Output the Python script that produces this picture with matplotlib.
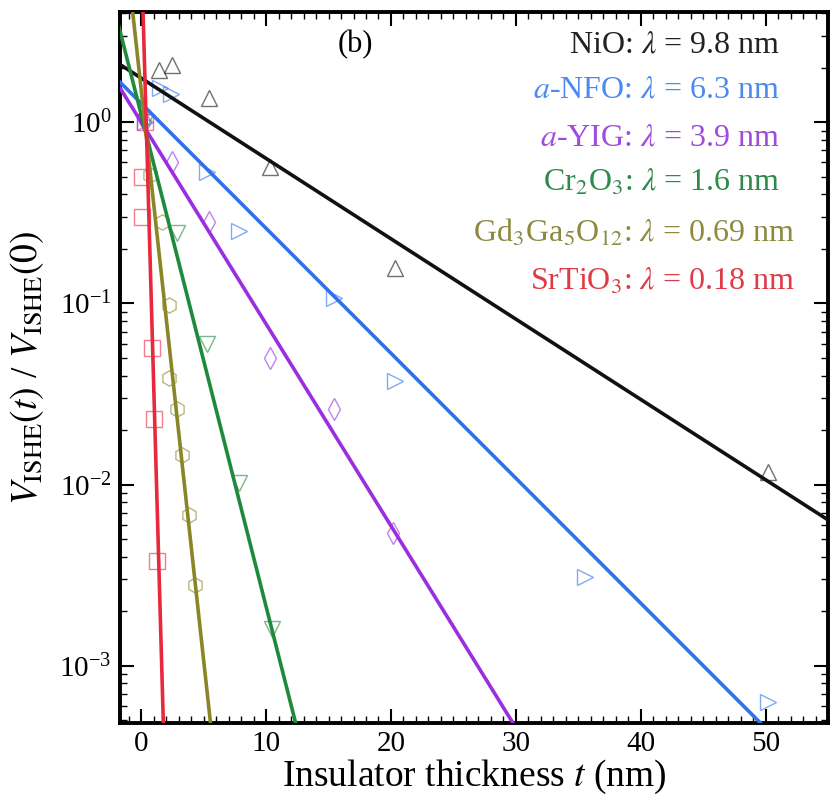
import numpy as np
import matplotlib
matplotlib.use("Agg")
import matplotlib.pyplot as plt
from matplotlib.ticker import MultipleLocator, LogLocator, NullFormatter

plt.rcParams['font.family'] = ['Liberation Serif', 'DejaVu Serif']
plt.rcParams['mathtext.fontset'] = 'stix'

# normalised ISHE voltage vs insulator thickness (nm)
t_nio = [1.4, 2.5, 5.4, 10.3, 20.3, 50.2]
v_nio = [1.94, 2.06, 1.36, 0.565, 0.157, 0.0117]

t_nfo = [0.3, 1.5, 2.4, 5.3, 7.8, 15.4, 20.3, 35.5, 50.2]
v_nfo = [1.0, 1.54, 1.44, 0.53, 0.25, 0.107, 0.0374, 0.0031, 6.3e-4]

t_yig = [0.3, 2.5, 5.4, 10.3, 15.4, 20.2]
v_yig = [1.0, 0.60, 0.28, 0.050, 0.026, 5.4e-3]

t_cro = [0.3, 2.9, 5.3, 7.8, 10.5]
v_cro = [1.0, 0.244, 0.06, 0.0102, 1.6e-3]

t_ggg = [0.7, 1.7, 2.2, 2.2, 2.9, 3.3, 3.8, 4.3]
v_ggg = [0.51, 0.28, 0.098, 0.039, 0.026, 0.0146, 6.8e-3, 2.8e-3]

t_sto = [0.3, 0.1, 0.1, 0.9, 1.0, 1.3]
v_sto = [1.0, 0.50, 0.30, 0.057, 0.023, 3.8e-3]

# exponential fits V0 * exp(-t / lambda)
lam = [9.8, 6.3, 3.9, 1.6, 0.69, 0.18]
amp = [1.75, 1.27, 1.0, 1.1, 1.5, 9.0]

labels = [r"NiO: $\lambda$ = 9.8 nm",
          r"$a$-NFO: $\lambda$ = 6.3 nm",
          r"$a$-YIG: $\lambda$ = 3.9 nm",
          r"Cr$_2$O$_3$: $\lambda$ = 1.6 nm",
          r"Gd$_3$Ga$_5$O$_{12}$: $\lambda$ = 0.69 nm",
          r"SrTiO$_3$: $\lambda$ = 0.18 nm"]

colors = ['#111111', '#2f72ea', '#9b2fe0', '#1f8a3c', '#8a8526', '#e8283c']
txt_colors = ['#222222', '#4d8af0', '#a04ae0', '#2f8a4a', '#8d8a40', '#e03a46']
markers = ['^', '>', 'd', 'v', 'h', 's']

series = [(t_nio, v_nio), (t_nfo, v_nfo), (t_yig, v_yig),
          (t_cro, v_cro), (t_ggg, v_ggg), (t_sto, v_sto)]

fig = plt.figure(figsize=(8.3, 7.97), dpi=100)
ax = fig.add_axes([0.1446, 0.0928, 0.853, 0.892])

tt = np.linspace(-3, 57, 600)
for (t, v), m, c, l, a in zip(series, markers, colors, lam, amp):
    ax.plot(t, v, linestyle='none', marker=m, markersize=11,
            markerfacecolor='none', markeredgecolor=c, markeredgewidth=1.0,
            alpha=0.6, zorder=2)
    ax.plot(tt, a * np.exp(-tt / l), color=c, lw=2.6, zorder=3)

ax.set_yscale('log')
ax.set_xlim(-1.7, 55)
ax.set_ylim(4.84e-4, 4.05)

ax.xaxis.set_major_locator(MultipleLocator(10))
ax.xaxis.set_minor_locator(MultipleLocator(1))
ax.yaxis.set_major_locator(LogLocator(base=10, numticks=10))
ax.yaxis.set_minor_locator(LogLocator(base=10, subs=np.arange(2, 10), numticks=10))
ax.yaxis.set_minor_formatter(NullFormatter())

ax.tick_params(which='both', direction='in', top=True, right=True,
               labelsize=21, pad=6)
ax.tick_params(which='major', length=10, width=1.5)
ax.tick_params(which='minor', length=5, width=1.0)
for s in ax.spines.values():
    s.set_linewidth(2.8)

ax.set_xlabel(r"Insulator thickness $t$ (nm)", fontsize=27, labelpad=0)
ax.set_ylabel(r"$V_{\rm ISHE}(t)$ / $V_{\rm ISHE}(0)$", fontsize=27, labelpad=10)

ax.text(355 / 830, 1 - 45 / 797, "(b)", transform=fig.transFigure,
        fontsize=22, ha='center', va='center')

# colour-coded decay lengths, top right
row_y = [45, 90, 138, 183, 233, 282]
row_x = [780, 780, 780, 780, 795, 795]
for lab, c, x, y in zip(labels, txt_colors, row_x, row_y):
    ax.text(x / 830, 1 - y / 797, lab, transform=fig.transFigure,
            fontsize=23, color=c, ha='right', va='center')

fig.savefig("out.png", dpi=100)
